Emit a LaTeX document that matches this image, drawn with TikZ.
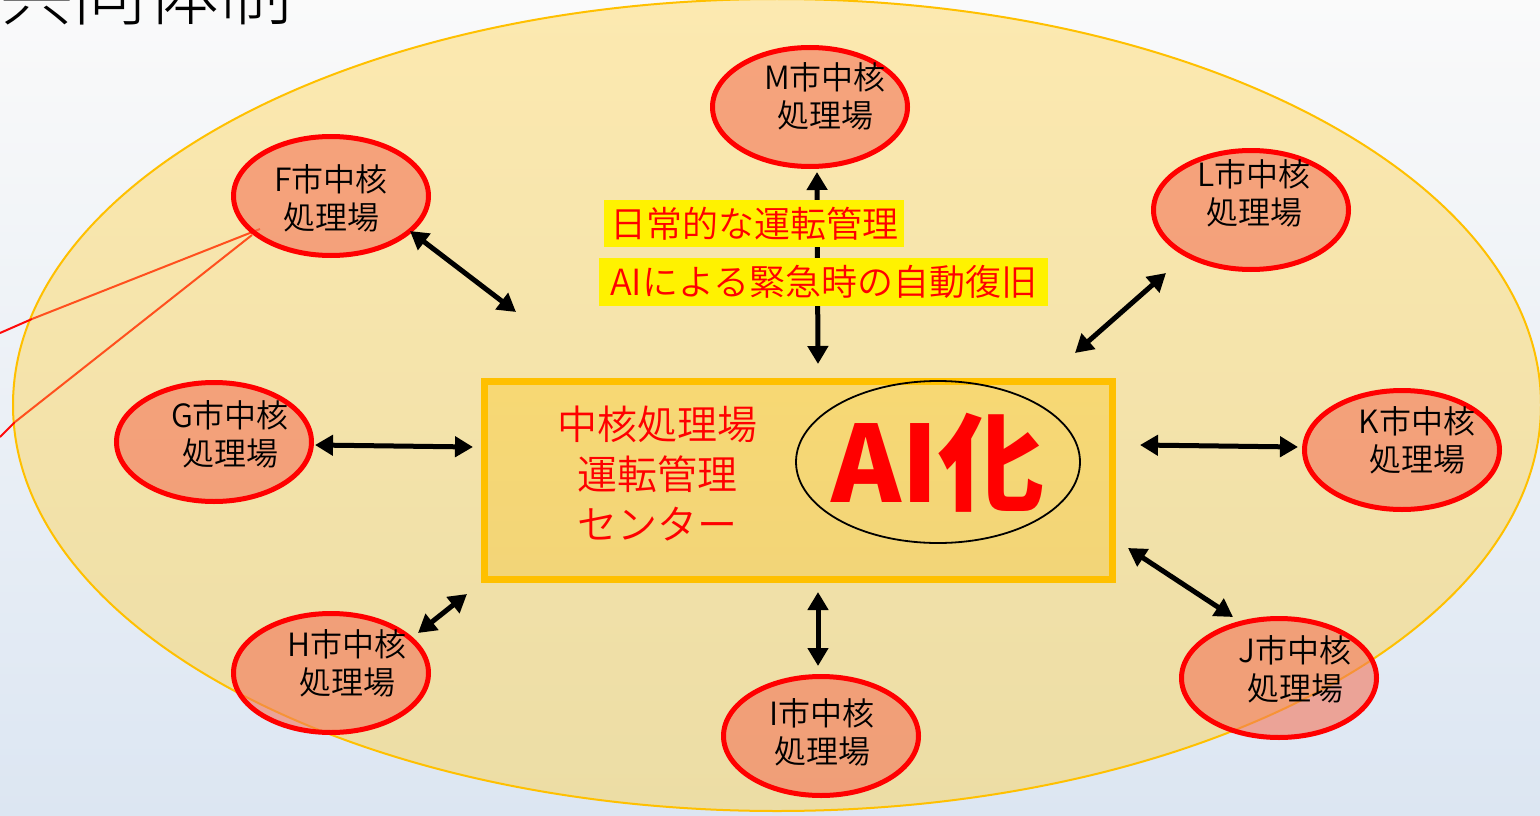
\documentclass[tikz,border=0pt]{standalone}
\usepackage{fontspec}
\setmainfont{Noto Sans CJK JP}
\newfontfamily\jpdemi{Noto Sans CJK JP DemiLight}
\newfontfamily\jplight{Noto Sans CJK JP Light}
\usetikzlibrary{arrows.meta,shapes.geometric,calc}
\definecolor{bgtop}{RGB}{250,250,250}
\definecolor{bgbot}{RGB}{220,230,242}
\definecolor{elltop}{RGB}{252,233,176}
\definecolor{ellbot}{RGB}{236,221,165}
\definecolor{ellline}{RGB}{255,192,0}
\definecolor{boxtop}{RGB}{247,216,116}
\definecolor{boxbot}{RGB}{242,213,120}
\definecolor{plantfill}{RGB}{243,117,90}
\definecolor{linkred}{RGB}{255,10,10}
\definecolor{linkorange}{RGB}{255,80,30}
\tikzset{
  plant/.style={ellipse, draw=red, line width=5pt, fill=plantfill, fill opacity=0.6, draw opacity=1,
    minimum width=195pt, minimum height=119pt, inner sep=0pt},
  plabel/.style={align=center, font=\jpdemi\fontsize{32}{38}\selectfont, text=black, inner sep=0pt},
  arr/.style={line width=5pt, {Triangle[length=18pt,width=20pt]}-{Triangle[length=18pt,width=20pt]}},
  hl/.style={fill=yellow, text=red, font=\jpdemi\fontsize{36}{36}\selectfont, inner sep=0pt},
  link/.style={line width=2pt},
}
\newcommand\plantnode[6]{%
  \node[plant] (#1) at (#2,#3) {};
  \node[plabel] (#1t) at ([shift={(#4,#5)}]#1.center) {#6市中核\\処理場};
}
\begin{document}
\begin{tikzpicture}[x=1pt,y=-1pt]
\useasboundingbox (0,0) rectangle (1540,816);
\shade[top color=bgtop, bottom color=bgbot] (0,0) rectangle (1540,816);
% title
\node[anchor=base west, font=\jplight\fontsize{73}{73}\selectfont, inner sep=0pt] (title) at (0,20) {共同体制};
% big region
\node[ellipse, draw=ellline, line width=2pt, top color=elltop, bottom color=ellbot,
  minimum width=1528pt, minimum height=812pt, inner sep=0pt] (region) at (777,405) {};
% red links on the left
\coordinate (l1o) at (0,333); \coordinate (l1e) at (32,319); \coordinate (l1i) at (260,229);
\coordinate (l2o) at (0,437); \coordinate (l2e) at (15,422); \coordinate (l2i) at (252,235);
\draw[link, linkred] (l1o) -- (l1e);
\draw[link, linkorange] (l1e) -- (l1i);
\draw[link, linkred] (l2o) -- (l2e);
\draw[link, linkorange] (l2e) -- (l2i);
% center box
\node[draw=ellline, line width=7pt, top color=boxtop, bottom color=boxbot,
  minimum width=628pt, minimum height=198pt, inner sep=0pt] (C) at (798.5,480.5) {};
\node[text=red, align=center, font=\jpdemi\fontsize{40}{50}\selectfont, inner sep=0pt] (Ct) at (657,474) {中核処理場\\運転管理\\センター};
\node[ellipse, draw=black, line width=1.8pt, minimum width=284pt, minimum height=162pt, inner sep=0pt] (AI) at (938,462) {};
\node[text=red, font=\bfseries\fontsize{106}{106}\selectfont, inner sep=0pt, anchor=base] (AIt) at (938,502) {AI化};
% plants
\plantnode{M}{810}{107}{15}{-11}{M}
\plantnode{F}{331}{196}{0}{2}{F}
\plantnode{L}{1251}{210}{3}{-17}{L}
\plantnode{G}{214}{442}{16}{-8}{G}
\plantnode{K}{1402}{450}{15}{-10}{K}
\plantnode{H}{331}{673}{16}{-10}{H}
\plantnode{I}{821}{736}{1}{-4}{I}
\plantnode{J}{1279}{678}{16}{-9}{J}
% arrows
\coordinate (mA) at (817,172); \coordinate (mB) at (818,364);
\coordinate (fA) at (410,231); \coordinate (fB) at (516,312);
\coordinate (lA) at (1166,273); \coordinate (lB) at (1075,353);
\coordinate (gA) at (315,445); \coordinate (gB) at (473,447);
\coordinate (kA) at (1298,447); \coordinate (kB) at (1140,445);
\coordinate (hA) at (418,633); \coordinate (hB) at (467,594);
\coordinate (iA) at (818,666); \coordinate (iB) at (818,592);
\coordinate (jA) at (1233,617); \coordinate (jB) at (1128,548);
\draw[arr] (mA) -- (mB);
\draw[arr] (fA) -- (fB);
\draw[arr] (lA) -- (lB);
\draw[arr] (gA) -- (gB);
\draw[arr] (kA) -- (kB);
\draw[arr] (hA) -- (hB);
\draw[arr] (iA) -- (iB);
\draw[arr] (jA) -- (jB);
% highlighted labels
\node[hl, minimum width=300pt, minimum height=47pt] (hl1) at (754,223.5) {日常的な運転管理};
\node[hl, minimum width=449pt, minimum height=48pt] (hl2) at (823.5,282) {AIによる緊急時の自動復旧};
\end{tikzpicture}
\end{document}
